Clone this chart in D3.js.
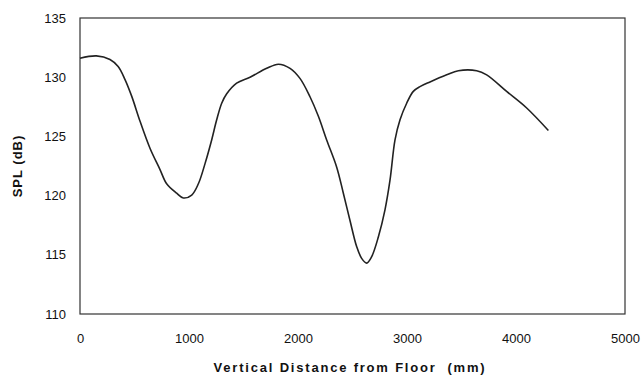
<!DOCTYPE html>
<html><head><meta charset="utf-8">
<script src="https://cdn.jsdelivr.net/npm/d3@7/dist/d3.min.js"></script>
<style>body{margin:0;background:#fff}text{font-family:"Liberation Sans",Arial,sans-serif}</style>
</head><body><svg id="c" width="642" height="376"></svg>
<script>
const distance = [0,150,275,350,413,474,550,642,734,795,887,948,1025,1086,1147,1208,1254,1300,1346,1437,1560,1713,1820,1927,2018,2110,2187,2263,2355,2416,2477,2538,2584,2630,2676,2737,2798,2844,2890,2936,2997,3058,3119,3211,3364,3471,3639,3731,3914,4098,4297];
const spl = [131.6,131.8,131.5,130.9,129.8,128.4,126.3,124.0,122.2,121.0,120.2,119.8,120.05,121.0,122.7,124.7,126.4,127.8,128.6,129.5,130.0,130.75,131.1,130.75,129.9,128.35,126.7,124.7,122.4,120.2,117.9,115.7,114.7,114.3,114.85,116.5,118.8,121.3,124.7,126.4,127.8,128.8,129.2,129.6,130.2,130.55,130.55,130.2,128.8,127.4,125.5];
const xTicks = [0,1000,2000,3000,4000,5000];
const yTicks = [110,115,120,125,130,135];
const xTitle = "Vertical Distance from Floor  (mm)";
const yTitle = "SPL (dB)";

const svg = d3.select("#c");
const L=80,R=625,T=18,B=314;
const x = d3.scaleLinear().domain([0,5000]).range([L,R]);
const y = d3.scaleLinear().domain([110,135]).range([B,T]);

svg.append("rect").attr("x",L).attr("y",T).attr("width",R-L).attr("height",B-T)
  .attr("fill","none").attr("stroke","#333").attr("stroke-width",1.2);

const xa = svg.append("g").attr("transform",`translate(0,${B})`)
  .call(d3.axisBottom(x).tickValues(xTicks).tickSize(0).tickPadding(20).tickFormat(d3.format("d")));
xa.select(".domain").remove();
xa.selectAll("text").attr("font-size",13).attr("fill","#111").style("font-family","'Liberation Sans',Arial,sans-serif");

const ya = svg.append("g").attr("transform",`translate(${L},0)`)
  .call(d3.axisLeft(y).tickValues(yTicks).tickSize(0).tickPadding(14).tickFormat(d3.format("d")));
ya.select(".domain").remove();
ya.selectAll("text").attr("font-size",13).attr("fill","#111").style("font-family","'Liberation Sans',Arial,sans-serif");

svg.append("text").attr("x",350).attr("y",372).attr("text-anchor","middle")
  .attr("font-size",13).attr("font-weight","bold").attr("letter-spacing","1.8px").attr("fill","#111")
  .attr("xml:space","preserve").style("white-space","pre").text(xTitle);
svg.append("text").attr("transform","translate(22,166) rotate(-90)").attr("text-anchor","middle")
  .attr("font-size",13).attr("font-weight","bold").attr("letter-spacing","1px").attr("fill","#111").text(yTitle);

const pts = distance.map((d,i)=>[d,spl[i]]);
svg.append("path").datum(pts).attr("fill","none").attr("stroke","#222").attr("stroke-width",1.6)
  .attr("d",d3.line().x(d=>x(d[0])).y(d=>y(d[1])).curve(d3.curveCatmullRom.alpha(0.5)));
</script></body></html>
